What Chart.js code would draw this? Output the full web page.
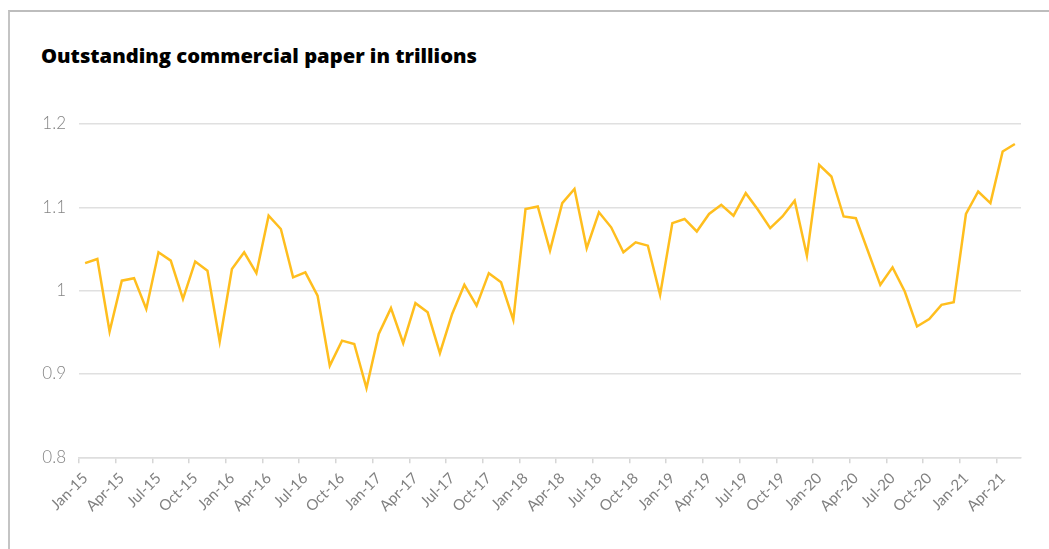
<!DOCTYPE html>
<html>
<head>
<meta charset="utf-8">
<script src="https://cdn.jsdelivr.net/npm/chart.js@4"></script>
<style>
  html, body { margin: 0; padding: 0; background: #fff; }
  #wrap { position: relative; width: 1049px; height: 549px; overflow: hidden; }
  #frame { position: absolute; left: 8px; top: 10px; width: 1100px; height: 600px;
           border-top: 2px solid #bdbdbd; border-left: 2px solid #c4c4c4; }
  #title { position: absolute; left: 41px; top: 43px; font: 800 20px "Open Sans", sans-serif;
           color: #000; white-space: nowrap; line-height: 1.2; }
  #box { position: absolute; left: 0; top: 0; width: 1049px; height: 549px; }
</style>
</head>
<body>
<div id="wrap">
  <div id="frame"></div>
  <div id="title">Outstanding commercial paper in trillions</div>
  <div id="box"><canvas id="cpChart"></canvas></div>
</div>
<script>
const months = [
  'Jan-15','Feb-15','Mar-15','Apr-15','May-15','Jun-15','Jul-15','Aug-15','Sep-15','Oct-15','Nov-15','Dec-15',
  'Jan-16','Feb-16','Mar-16','Apr-16','May-16','Jun-16','Jul-16','Aug-16','Sep-16','Oct-16','Nov-16','Dec-16',
  'Jan-17','Feb-17','Mar-17','Apr-17','May-17','Jun-17','Jul-17','Aug-17','Sep-17','Oct-17','Nov-17','Dec-17',
  'Jan-18','Feb-18','Mar-18','Apr-18','May-18','Jun-18','Jul-18','Aug-18','Sep-18','Oct-18','Nov-18','Dec-18',
  'Jan-19','Feb-19','Mar-19','Apr-19','May-19','Jun-19','Jul-19','Aug-19','Sep-19','Oct-19','Nov-19','Dec-19',
  'Jan-20','Feb-20','Mar-20','Apr-20','May-20','Jun-20','Jul-20','Aug-20','Sep-20','Oct-20','Nov-20','Dec-20',
  'Jan-21','Feb-21','Mar-21','Apr-21','May-21'
];

// outstanding commercial paper, trillions
const paper = [
  1.033, 1.038, 0.951, 1.012, 1.015, 0.978, 1.046, 1.036, 0.990, 1.035, 1.024, 0.939,
  1.026, 1.046, 1.021, 1.090, 1.074, 1.016, 1.022, 0.994, 0.910, 0.940, 0.936, 0.883,
  0.948, 0.979, 0.937, 0.985, 0.974, 0.925, 0.972, 1.007, 0.982, 1.021, 1.010, 0.965,
  1.098, 1.101, 1.048, 1.105, 1.122, 1.051, 1.094, 1.076, 1.046, 1.058, 1.054, 0.995,
  1.081, 1.086, 1.071, 1.092, 1.103, 1.090, 1.117, 1.097, 1.075, 1.089, 1.108, 1.042,
  1.151, 1.137, 1.089, 1.087, 1.047, 1.007, 1.028, 0.999, 0.957, 0.966, 0.983, 0.986,
  1.092, 1.119, 1.105, 1.167, 1.176
];

const yMin = 0.8;
const yMax = 1.2;
const yStep = 0.1;

// stretch the title to the width it has in the original
const title = document.getElementById('title');
const w = title.getBoundingClientRect().width;
if (w > 0) title.style.fontSize = (20 * 436 / w).toFixed(2) + 'px';

const ctx = document.getElementById('cpChart').getContext('2d');
new Chart(ctx, {
    type: 'line',
    data: {
        labels: months,
        datasets: [{
            label: 'Outstanding commercial paper',
            data: paper,
            borderColor: '#FFBE1E',
            borderWidth: 2.5,
            pointRadius: 0,
            tension: 0,
            fill: false
        }]
    },
    options: {
        responsive: true,
        maintainAspectRatio: false,
        animation: false,
        layout: { padding: { left: 0, top: 124, right: 28, bottom: 0 } },
        plugins: {
            legend: { display: false },
            tooltip: { enabled: false }
        },
        scales: {
            x: {
                offset: true,
                grid: {
                    offset: true,
                    drawOnChartArea: false,
                    drawTicks: true,
                    tickLength: 6,
                    lineWidth: 1.5,
                    color: c => (c.index % 3 === 0 ? '#d6d6d6' : 'rgba(0,0,0,0)')
                },
                border: { display: true, color: '#dedede', width: 1.5 },
                ticks: {
                    autoSkip: false,
                    minRotation: 45,
                    maxRotation: 45,
                    padding: 6,
                    color: '#808080',
                    font: { family: 'Lato', size: 15 },
                    callback: function(v, i) { return i % 3 === 0 ? this.getLabelForValue(v) : ''; }
                },
                afterFit: s => { s.height = 91.7; }
            },
            y: {
                min: yMin,
                max: yMax,
                grid: { color: '#e0e0e0', lineWidth: 1.5, drawTicks: false },
                border: { display: false },
                ticks: {
                    stepSize: yStep,
                    padding: 13,
                    color: '#858585',
                    font: { family: 'Lato', size: 17, weight: '300' },
                    callback: v => String(Number(v.toFixed(1)))
                },
                afterFit: s => { s.width = 79; }
            }
        }
    }
});
</script>
</body>
</html>
